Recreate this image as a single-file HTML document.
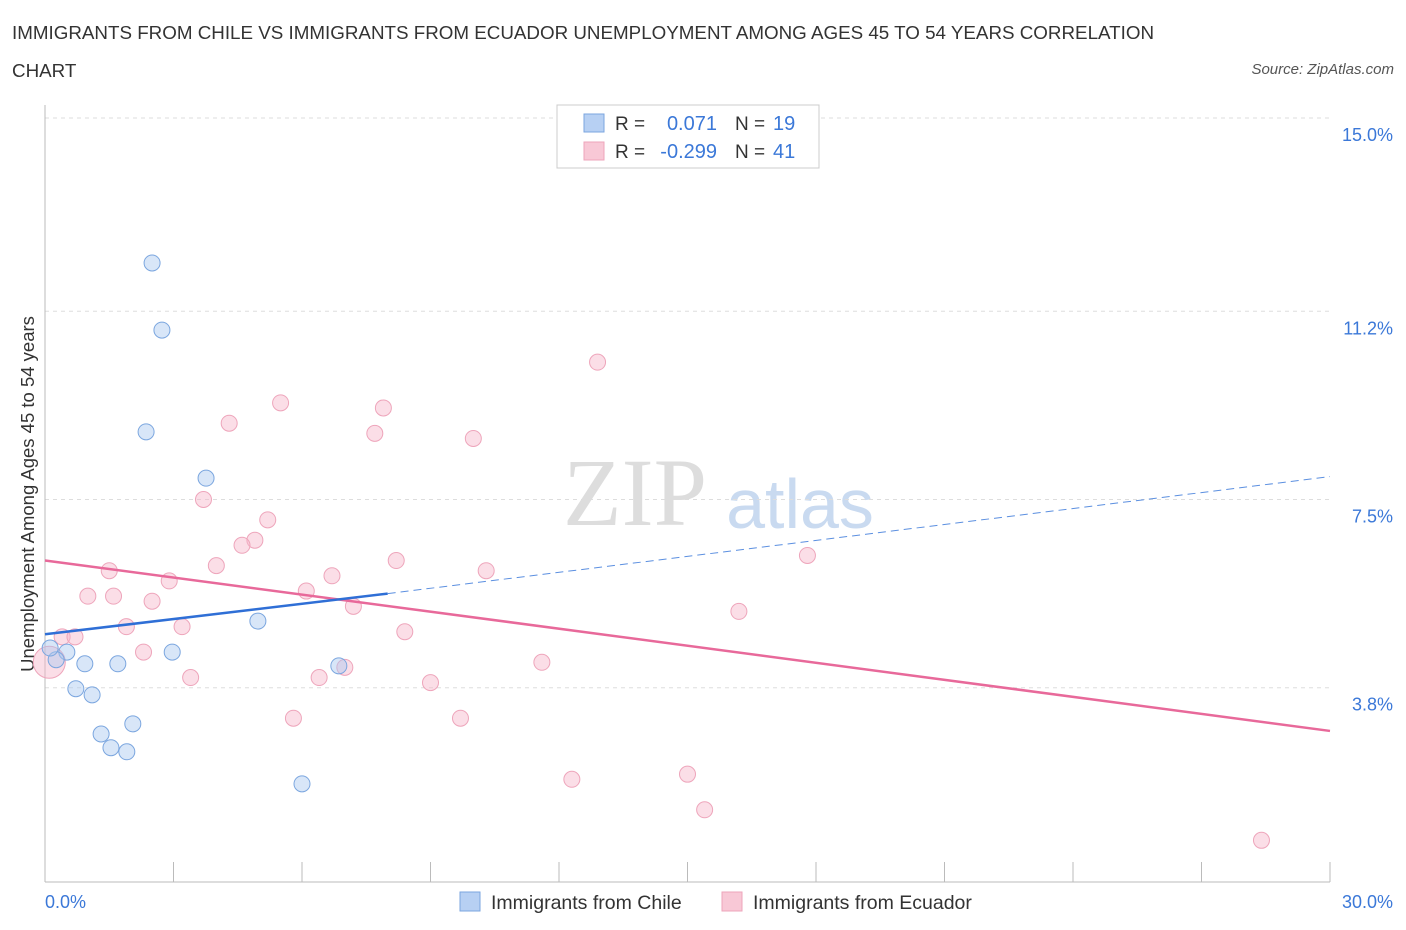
<!DOCTYPE html>
<html><head><meta charset="utf-8">
<style>
body{margin:0;background:#fff;font-family:"Liberation Sans",sans-serif;}
#wrap{position:relative;width:1406px;height:930px;overflow:hidden}
.t{position:absolute;color:#333;font-size:18.8px}
</style></head>
<body>
<div id="wrap">
<div class="t" style="left:12px;top:22px;">IMMIGRANTS FROM CHILE VS IMMIGRANTS FROM ECUADOR UNEMPLOYMENT AMONG AGES 45 TO 54 YEARS CORRELATION</div>
<div class="t" style="left:12px;top:60px;">CHART</div>
<div class="t" style="right:12px;top:61px;font-size:15px;font-style:italic;color:#555">Source: ZipAtlas.com</div>
<svg id="svg" width="1406" height="930" style="position:absolute;left:0;top:0"></svg>
</div>
<script>
const chileX=[2.5,2.73,2.36,3.76,4.97,2.97,1.7,0.93,0.51,0.26,0.72,1.1,2.05,1.31,1.54,1.91,6.0,6.86,0.12];
const chileY=[12.15,10.83,8.83,7.92,5.11,4.5,4.27,4.27,4.5,4.35,3.78,3.66,3.09,2.89,2.62,2.54,1.91,4.23,4.58];
const ecuX=[12.9,5.5,7.9,4.3,7.7,10.0,3.7,5.2,4.9,4.6,17.8,8.2,4.0,1.5,10.3,6.7,2.9,1.6,1.0,6.1,2.5,7.2,16.2,3.2,1.9,8.4,0.4,0.7,2.3,11.6,7.0,3.4,6.4,9.0,5.8,9.7,12.3,15.0,15.4,28.4,0.1];
const ecuY=[10.2,9.4,9.3,9.0,8.8,8.7,7.5,7.1,6.7,6.6,6.4,6.3,6.2,6.1,6.1,6.0,5.9,5.6,5.6,5.7,5.5,5.4,5.3,5.0,5.0,4.9,4.8,4.8,4.5,4.3,4.2,4.0,4.0,3.9,3.2,3.2,2.0,2.1,1.4,0.8,4.3];
const yTicks=[15.0,11.2,7.5,3.8];
const yTickLabels=["15.0%","11.2%","7.5%","3.8%"];
const chileTrend=[[0,4.85],[8.0,5.65],[30,7.95]];
const ecuTrend=[[0,6.3],[30,2.95]];
const X0=45,X1=1330,Y0=881,YTOP=118;
const sx=v=>X0+v/30*(X1-X0);
const sy=v=>Y0-v/15*(Y0-YTOP);
const svg=document.getElementById('svg');
const NS='http://www.w3.org/2000/svg';
function mk(tag,attrs,name,parent){const e=document.createElementNS(NS,tag);for(const k in attrs)e.setAttribute(k,attrs[k]);


(parent||svg).appendChild(e);return e;}
let w=mk('text',{x:635,y:525,'font-size':96,'font-family':'Liberation Serif',fill:'#ddd','text-anchor':'middle'},'watermark-zip');w.textContent='ZIP';
w=mk('text',{x:800,y:528,'font-size':70,'font-family':'Liberation Sans',fill:'#c9daf0','text-anchor':'middle'},'watermark-atlas');w.textContent='atlas';
yTicks.forEach((v,i)=>{mk('line',{x1:X0,x2:1330,y1:sy(v),y2:sy(v),stroke:'#ddd','stroke-dasharray':'4,4'},'y-gridline');
const t=mk('text',{x:1393,y:sy(v)+23,'font-size':18,fill:'#3b78d8','text-anchor':'end'},'y-tick-label');t.textContent=yTickLabels[i];});
mk('line',{x1:X0,x2:X0,y1:105,y2:882,stroke:'#bbb'},'y-axis');
mk('line',{x1:X0,x2:1330,y1:882,y2:882,stroke:'#bbb'},'x-axis');
for(let i=0;i<=10;i++){mk('line',{x1:sx(i*3),x2:sx(i*3),y1:862,y2:882,stroke:'#bbb'},'x-tick');}
let t=mk('text',{x:45,y:908,'font-size':18,fill:'#3b78d8'},'x-tick-label');t.textContent='0.0%';
t=mk('text',{x:1393,y:908,'font-size':18,fill:'#3b78d8','text-anchor':'end'},'x-tick-label');t.textContent='30.0%';
t=mk('text',{x:0,y:0,'font-size':18.5,fill:'#333','text-anchor':'middle',transform:'translate(34,494) rotate(-90)'},'y-axis-title');t.textContent='Unemployment Among Ages 45 to 54 years';
ecuX.forEach((x,i)=>mk('circle',{cx:sx(x),cy:sy(ecuY[i]),r:i==ecuX.length-1?16:8,fill:'rgba(247,182,201,0.45)',stroke:'#eea5bb','stroke-width':1},'ecuador-point'));
chileX.forEach((x,i)=>mk('circle',{cx:sx(x),cy:sy(chileY[i]),r:8,fill:'rgba(168,199,240,0.45)',stroke:'#7ba6df','stroke-width':1},'chile-point'));
mk('line',{x1:sx(ecuTrend[0][0]),y1:sy(ecuTrend[0][1]),x2:sx(ecuTrend[1][0]),y2:sy(ecuTrend[1][1]),stroke:'#e8699a','stroke-width':2.5},'ecuador-trend-line');
mk('line',{x1:sx(chileTrend[0][0]),y1:sy(chileTrend[0][1]),x2:sx(chileTrend[1][0]),y2:sy(chileTrend[1][1]),stroke:'#2f6fd6','stroke-width':2.5},'chile-trend-line');
mk('line',{x1:sx(chileTrend[1][0]),y1:sy(chileTrend[1][1]),x2:sx(chileTrend[2][0]),y2:sy(chileTrend[2][1]),stroke:'#5b8fe0','stroke-width':1,'stroke-dasharray':'8,5'},'chile-trend-extension');
mk('rect',{x:557,y:105,width:262,height:63,fill:'#fff',stroke:'#ccc'},'legend-box');
const leg=[['#b7d0f3','#7ba6df','0.071','19',123],['#f8c8d6','#eea5bb','-0.299','41',151]];
leg.forEach(l=>{mk('rect',{x:584,y:l[4]-9,width:20,height:18,fill:l[0],stroke:l[1]},'legend-swatch');
let a=mk('text',{x:615,y:l[4]+7,'font-size':19,fill:'#333'},'legend-r-label');a.textContent='R =';
a=mk('text',{x:717,y:l[4]+7,'font-size':20,fill:'#3b78d8','text-anchor':'end'},'legend-r-value');a.textContent=l[2];
a=mk('text',{x:735,y:l[4]+7,'font-size':19,fill:'#333'},'legend-n-label');a.textContent='N =';
a=mk('text',{x:773,y:l[4]+7,'font-size':20,fill:'#3b78d8'},'legend-n-value');a.textContent=l[3];});
mk('rect',{x:460,y:892,width:20,height:19,fill:'#b7d0f3',stroke:'#7ba6df'},'legend-chile-swatch');
t=mk('text',{x:491,y:909,'font-size':19.5,fill:'#333'},'legend-chile-label');t.textContent='Immigrants from Chile';
mk('rect',{x:722,y:892,width:20,height:19,fill:'#f8c8d6',stroke:'#eea5bb'},'legend-ecuador-swatch');
t=mk('text',{x:753,y:909,'font-size':19.5,fill:'#333'},'legend-ecuador-label');t.textContent='Immigrants from Ecuador';
</script>
</body></html>
